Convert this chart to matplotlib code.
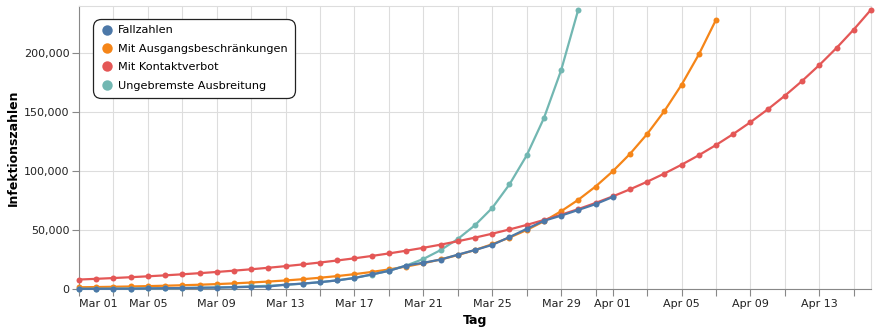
import matplotlib
matplotlib.use('Agg')
import matplotlib.pyplot as plt
from matplotlib.lines import Line2D
from matplotlib.ticker import FuncFormatter
import pandas as pd

plt.rcParams['font.family'] = ['DejaVu Sans']

# data, daily values starting Mar 01 2020
start = "2020-03-01"

fallzahlen = [130, 159, 196, 262, 482, 670, 799, 1040, 1176, 1457, 1908, 2078,
              3675, 4585, 5795, 7272, 9257, 12327, 15320, 19848, 22213, 24873,
              29056, 32986, 37323, 43938, 50871, 57695, 62095, 66885, 71808, 77872]

ausgang = [1450, 1650, 1880, 2140, 2440, 2780, 3170, 3620, 4150, 4760, 5500, 6300,
           7230, 8300, 9530, 10940, 12560, 14420, 16550, 19000, 21800, 25000,
           28700, 33000, 37900, 43500, 49900, 57300, 65800, 75500, 86700, 99600,
           114300, 131200, 150600, 172900, 198500, 227900]

kontakt = [8000, 8610, 9270, 9980, 10740, 11560, 12440, 13390, 14420, 15520, 16700,
           17980, 19350, 20830, 22420, 24130, 25980, 27960, 30100, 32400, 34870,
           37530, 40400, 43490, 46810, 50380, 54230, 58370, 62830, 67630, 72800,
           78360, 84350, 90790, 97720, 105190, 113220, 121870, 131180, 141200,
           151990, 163600, 176090, 189540, 204020, 219610, 236380]

ungebremst = [182, 233, 298, 382, 489, 625, 800, 1025, 1311, 1679, 2149, 2750,
              3520, 4506, 5768, 7383, 9450, 12096, 15483, 19818, 25400, 32900,
              42300, 54000, 68600, 88500, 113000, 144500, 185000, 236500]

series_names = ["Fallzahlen", "Mit Ausgangsbeschränkungen", "Mit Kontaktverbot",
                "Ungebremste Ausbreitung"]
series_values = [fallzahlen, ausgang, kontakt, ungebremst]
colors = ["#4c78a8", "#f58518", "#e45756", "#72b7b2"]
zorders = [6, 3, 5, 4]

# x ticks: odd days, labels every 4 days
tick_dates = pd.to_datetime(
    ["2020-03-%02d" % d for d in range(1, 32, 2)] +
    ["2020-04-%02d" % d for d in range(1, 16, 2)])
label_dates = pd.to_datetime(
    ["2020-03-01", "2020-03-05", "2020-03-09", "2020-03-13", "2020-03-17",
     "2020-03-21", "2020-03-25", "2020-03-29", "2020-04-01", "2020-04-05",
     "2020-04-09", "2020-04-13"])
y_ticks = [0, 50000, 100000, 150000, 200000]

fig = plt.figure(figsize=(8.78, 3.31), dpi=100)
ax = fig.add_axes([79/878, 42/331, 792/878, 283/331])

for name, vals, col, z in zip(series_names, series_values, colors, zorders):
    x = pd.date_range(start, periods=len(vals), freq="D")
    ax.plot(x, vals, color=col, lw=1.6, marker='o', markersize=4.3,
            markeredgewidth=0, zorder=z, clip_on=False)

ax.set_xlim(pd.Timestamp("2020-03-01"), pd.Timestamp("2020-04-16"))
ax.set_ylim(0, 239500)

ax.set_xticks(tick_dates)
ax.set_xticklabels([d.strftime("%b %d") if d in label_dates else "" for d in tick_dates])
ax.get_xticklabels()[0].set_ha('left')
ax.set_yticks(y_ticks)
ax.yaxis.set_major_formatter(FuncFormatter(lambda v, p: "{:,.0f}".format(v)))

ax.grid(True, color="#dddddd", lw=0.8, zorder=0)
ax.set_axisbelow(True)
ax.tick_params(length=5, width=0.8, color="#888888", labelsize=8, pad=2,
               labelcolor="#222222")
for s in ["left", "bottom"]:
    ax.spines[s].set_color("#888888")
    ax.spines[s].set_linewidth(0.8)
for s in ["top", "right"]:
    ax.spines[s].set_color("#dddddd")
    ax.spines[s].set_linewidth(0.8)

ax.set_xlabel("Tag", fontsize=9, fontweight='bold', labelpad=4)
ax.set_ylabel("Infektionszahlen", fontsize=9, fontweight='bold', labelpad=3)

handles = [Line2D([], [], ls='none', marker='o', markersize=7.5, color=c,
                  markeredgewidth=0) for c in colors]
leg = ax.legend(handles, series_names, loc='upper left',
                bbox_to_anchor=(0.0177, 0.955), borderaxespad=0, fontsize=8.1,
                handlelength=1.3, handletextpad=0.35, labelspacing=0.75,
                borderpad=0.6, framealpha=1, fancybox=True)
leg.get_frame().set_edgecolor("#222222")
leg.get_frame().set_linewidth(0.9)
leg.get_frame().set_boxstyle('round,pad=0,rounding_size=0.7')
leg.set_zorder(10)

fig.savefig("out.png", dpi=100)
